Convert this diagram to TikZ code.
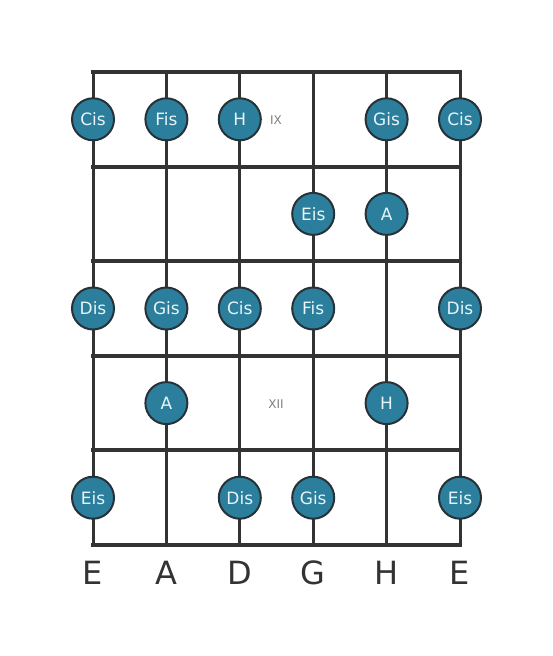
\documentclass[tikz,border=0pt]{standalone}
\usepackage{fontspec}
\setmainfont{DejaVu Sans}
\usetikzlibrary{positioning}
\definecolor{gridgray}{HTML}{333333}
\definecolor{notefill}{HTML}{2B7F9C}
\definecolor{noteedge}{HTML}{263238}
\definecolor{notetext}{HTML}{E8F4F8}

\tikzset{
  note/.style={circle, fill=notefill, draw=noteedge, line width=2pt,
    minimum size=42pt, inner sep=0pt, text=notetext,
    font=\fontsize{17}{17}\selectfont},
  fretnum/.style={text=gray, font=\fontsize{12}{12}\selectfont},
  strname/.style={text=gridgray, font=\fontsize{32}{32}\selectfont}
}

\begin{document}
\begin{tikzpicture}[x=1pt,y=-1pt]
  \useasboundingbox (0,0) rectangle (553,656);

  % Raster: Saitenabstand und Bundabstand
  \def\dx{73.4}
  \def\dy{94.6}

  % Saiten
  \foreach \s [count=\i from 0] in {E,A,D,G,H,E} {
    \coordinate (top\i) at ({93+\dx*\i},72);
    \coordinate (bot\i) at ({93+\dx*\i},545);
    \draw[gridgray, line width=3pt] (top\i) -- (bot\i);
    \node[strname] (str\i) at ({93+\dx*\i},573) {\s};
  }

  % Bünde
  \foreach \f in {0,...,5} {
    \coordinate (fl\f) at (93,{72+\dy*\f});
    \coordinate (fr\f) at (460,{72+\dy*\f});
    \draw[gridgray, line width=4pt, line cap=rect] (fl\f) -- (fr\f);
  }

  % Bundnummern
  \node[fretnum] (ix)  at (276,120) {IX};
  \node[fretnum] (xii) at (276,404) {XII};

  % Töne
  \foreach \s/\f/\n in {0/0/Cis, 1/0/Fis, 2/0/H, 4/0/Gis, 5/0/Cis,
                        3/1/Eis, 4/1/A,
                        0/2/Dis, 1/2/Gis, 2/2/Cis, 3/2/Fis, 5/2/Dis,
                        1/3/A, 4/3/H,
                        0/4/Eis, 2/4/Dis, 3/4/Gis, 5/4/Eis}
    \node[note] (n\s-\f) at ({93+\dx*\s},{119.3+\dy*\f}) {\n};
\end{tikzpicture}
\end{document}
